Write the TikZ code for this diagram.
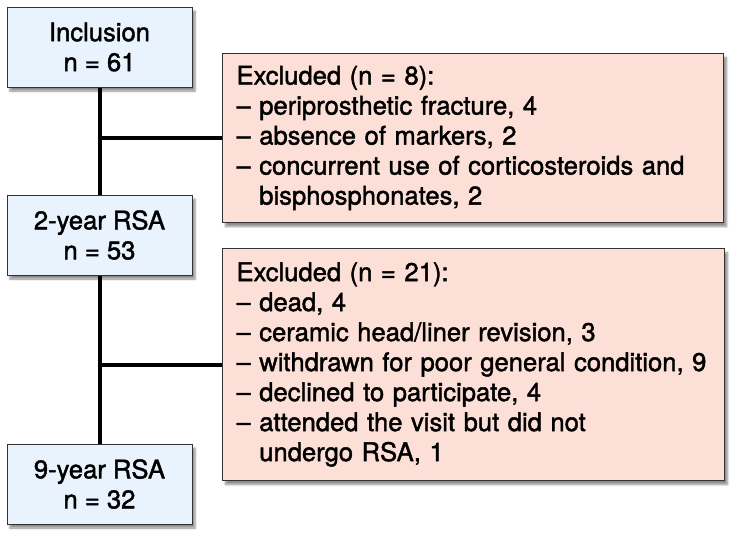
\documentclass[tikz,border=0pt]{standalone}
\usepackage{fontspec}
\setmainfont{TeX Gyre Heros}[FakeBold=1.6]
\usetikzlibrary{positioning,shadows.blur}

\definecolor{stageblue}{RGB}{233,243,253}
\definecolor{exclpink}{RGB}{252,224,216}
\definecolor{boxline}{RGB}{50,50,50}

\tikzset{
  basebox/.style={draw=boxline, line width=1pt, inner sep=0pt,
    blur shadow={shadow xshift=3pt, shadow yshift=-4pt, shadow blur steps=6, shadow opacity=45},
    font=\fontsize{25.6}{30}\selectfont},
  stage/.style={basebox, fill=stageblue, minimum width=185pt, minimum height=80pt, align=center},
  excl/.style={basebox, fill=exclpink, inner xsep=14pt, align=left},
  trunk/.style={line width=4pt, black}
}
\newcommand{\indnt}{\phantom{–}\ }

\begin{document}
\begin{tikzpicture}[x=1pt,y=-1pt]

\useasboundingbox (0,0) rectangle (743,544);

% follow-up stages
\node[stage] (incl) at (99.5,47) {Inclusion\\n = 61};
\node[stage] (rsa2) at (99.5,235) {2-year RSA\\n = 53};
\node[stage] (rsa9) at (99.5,484) {9-year RSA\\n = 32};

% exclusions
\node[excl, text width=473pt, minimum height=169pt, anchor=north west] (excl1) at (222,53)
  {Excluded (n = 8):\\
   – periprosthetic fracture, 4\\
   – absence of markers, 2\\
   – concurrent use of corticosteroids and\\
   \indnt bisphosphonates, 2};

\node[excl, text width=474pt, minimum height=232pt, anchor=north west] (excl2) at (222,248)
  {Excluded (n = 21):\\
   – dead, 4\\
   – ceramic head/liner revision, 3\\
   – withdrawn for poor general condition, 9\\
   – declined to participate, 4\\
   – attended the visit but did not\\
   \indnt undergo RSA, 1};

\draw[trunk] (incl.south) -- (rsa2.north);
\draw[trunk] (rsa2.south) -- (rsa9.north);
\draw[trunk] (excl1.west) -- (excl1.west -| incl.south);
\draw[trunk] (excl2.west) -- (excl2.west -| incl.south);

\end{tikzpicture}
\end{document}
